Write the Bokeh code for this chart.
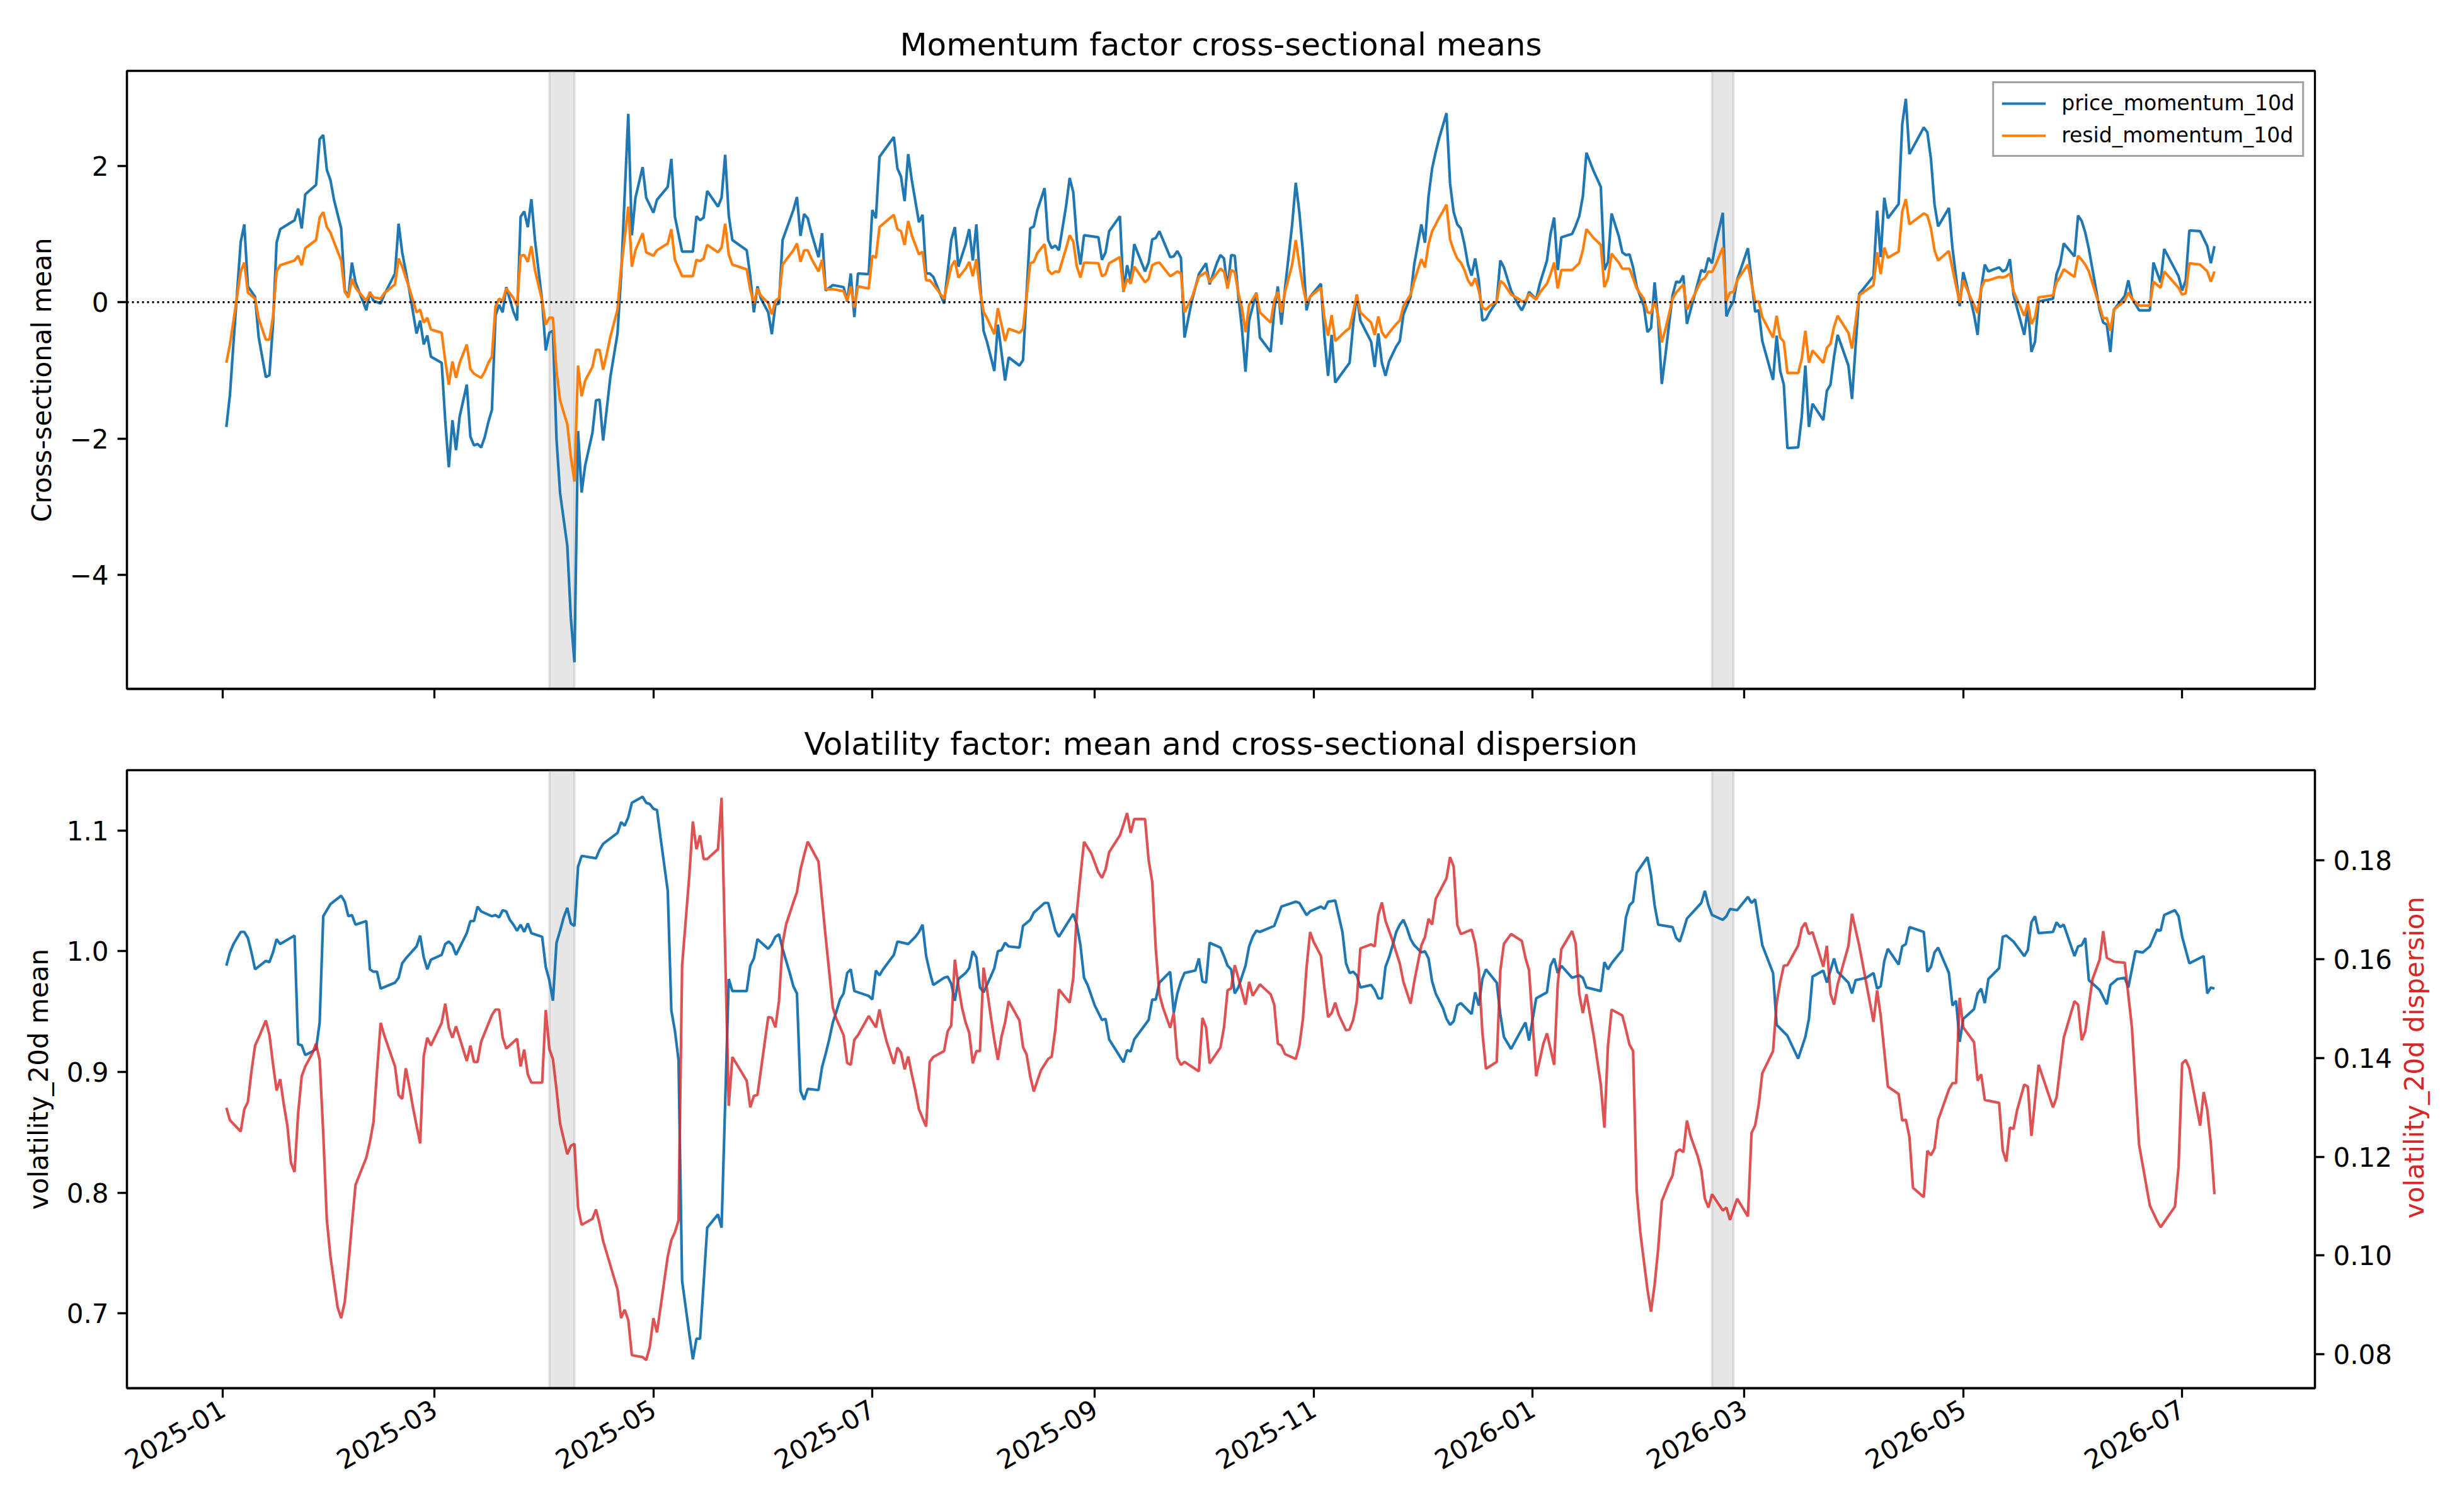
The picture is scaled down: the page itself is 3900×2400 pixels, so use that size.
import calendar
import datetime as dt
import math

from bokeh.embed import file_html
from bokeh.layouts import column, row
from bokeh.models import (BoxAnnotation, FixedTicker, Legend, LegendItem, LinearAxis,
                          PrintfTickFormatter, Range1d, Span)
from bokeh.plotting import figure
from bokeh.resources import INLINE

# ---------------------------------------------------------------------------
# Data: day offsets are counted from 2025-01-01
# ---------------------------------------------------------------------------
START = dt.datetime(2025, 1, 1)

mom_days = [
    1, 2, 3, 5, 6, 7, 9, 10, 12, 13, 14, 15, 16, 20, 21, 22, 23, 26, 27, 28,
    29, 30, 31, 33, 34, 35, 36, 37, 39, 40, 41, 42, 44, 45, 48, 49, 50, 52, 54, 55,
    56, 57, 58, 61, 62, 63, 64, 65, 66, 68, 69, 70, 71, 72, 73, 74, 75, 76, 77, 78,
    79, 81, 82, 83, 84, 85, 86, 87, 89, 90, 91, 92, 93, 94, 96, 97, 98, 99, 100, 101,
    103, 104, 105, 106, 107, 108, 110, 111, 113, 114, 115, 117, 118, 120, 121, 124, 125, 126, 128, 131,
    132, 133, 134, 135, 138, 139, 140,
    141, 142, 146, 147, 148, 149, 150, 152, 153, 154, 155, 156, 159, 160, 161, 162, 163, 164, 166, 167,
    168, 170, 173, 174, 175, 176, 177, 180, 181, 182, 183, 187, 188, 189, 190, 191, 192, 194, 195, 196,
    197, 198, 201, 203, 204, 205, 207, 208, 209, 210, 211, 212, 213, 215, 216, 218, 219, 222, 223, 224,
    225, 226, 227, 229, 230, 231, 232, 233, 235, 236, 237, 238, 239, 240, 244, 245, 246, 247, 250, 251,
    252, 253, 254, 257, 258, 259, 260, 261, 264, 265, 266, 267, 268, 270, 272, 274, 275, 277, 278, 279,
    280,
    281, 282, 283, 284, 285, 286, 288, 289, 292, 293, 294, 295, 296, 298, 299, 300, 301, 302, 303, 306,
    307, 308, 309, 310, 313, 314, 315, 316, 317, 320, 321, 322, 323, 324, 325, 327, 328, 329, 331, 332,
    334, 335, 336, 337, 338, 339, 340, 341, 342, 343, 344, 345, 346, 347, 348, 349, 350, 351, 352, 353,
    355, 356, 357, 359, 361, 362, 363, 364, 366, 367, 369, 370, 371, 372, 373, 376, 377, 378, 379, 380,
    382, 384, 385, 386, 387, 389, 390, 391, 392, 393, 394, 396, 397, 398, 399, 400, 401, 402, 403, 404,
    405, 406, 407, 408, 409, 412, 413, 414, 415, 416, 418, 419,
    420, 421, 422, 425, 427, 428, 429, 432, 433, 434, 435, 436, 439, 440, 441, 442, 443, 446, 447, 448,
    449, 450, 453, 454, 456, 460, 461, 462, 463, 464, 467, 468, 469, 470, 474, 475, 476, 477, 478, 481,
    482, 484, 485, 487, 488, 489, 490, 491, 492, 495, 496, 497, 498, 499, 502, 503, 504, 505, 506, 510,
    511, 512, 513, 516, 517, 518, 519, 520, 523, 524, 525, 526, 527, 530, 531, 532, 534, 537, 538, 540,
    541, 545, 546, 547, 548, 551, 553, 554, 555,
]

price_momentum_10d = [
    -1.83, -1.36, -0.59, 0.88, 1.14, 0.23, 0.08, -0.51, -1.10, -1.07,
    -0.33, 0.87, 1.07, 1.20, 1.37, 1.08, 1.58, 1.72, 2.39, 2.45,
    1.94, 1.79, 1.50, 1.08, 0.17, 0.08, 0.58, 0.29, 0.02, -0.12,
    0.15, 0.02, -0.02, 0.11, 0.42, 1.15, 0.73, 0.17, -0.46, -0.27,
    -0.62, -0.49, -0.80, -0.89, -1.74, -2.42, -1.73, -2.17, -1.68, -1.21,
    -1.97, -2.10, -2.08, -2.13, -1.98, -1.76, -1.58, -0.20, -0.04, -0.15,
    0.22, -0.14, -0.27, 1.25, 1.33, 1.10, 1.51, 0.91, 0.02, -0.71,
    -0.45, -0.42, -2.01, -2.80, -3.57, -4.63, -5.28, -1.89, -2.79, -2.39,
    -1.92, -1.44, -1.43, -2.03, -1.57, -1.10, -0.46, 0.38, 2.76, 0.98,
    1.53, 1.98, 1.53, 1.31, 1.50, 1.69, 2.10, 1.25, 0.74, 0.74,
    1.26, 1.20, 1.24, 1.63, 1.40, 1.53, 2.16,
    1.27, 0.91, 0.76, 0.38, -0.15, 0.23, 0.05, -0.15, -0.47, -0.04,
    -0.02, 0.91, 1.35, 1.54, 0.97, 1.29, 1.23, 1.02, 0.66, 1.01,
    0.17, 0.25, 0.22, 0.01, 0.42, -0.22, 0.42, 0.41, 1.35, 1.23,
    2.13, 2.42, 1.96, 1.84, 1.48, 2.17, 1.79, 1.17, 1.28, 0.42,
    0.42, 0.37, -0.02, 0.91, 1.10, 0.52, 0.85, 1.07, 0.61, 1.14,
    0.32, -0.42, -0.59, -1.01, -0.33, -1.15, -0.81, -0.93, -0.85, 0.14,
    1.08, 1.11, 1.35, 1.67, 0.91, 0.79, 0.83, 0.76, 1.41, 1.82,
    1.61, 0.91, 0.55, 0.98, 0.95, 0.62, 0.73, 1.04, 1.26, 0.15,
    0.54, 0.32, 0.85, 0.45, 0.58, 0.92, 0.94, 1.04, 0.66, 0.67,
    0.75, 0.65, -0.52, 0.01, 0.41, 0.57, 0.26, 0.57, 0.69, 0.64,
    0.20,
    0.69, 0.68, 0.09, -0.39, -1.02, -0.27, 0.14, -0.52, -0.73, -0.12,
    0.23, -0.33, 0.20, 1.14, 1.75, 1.32, 0.73, -0.12, 0.08, 0.27,
    -0.51, -1.08, -0.48, -1.18, -0.96, -0.89, -0.33, 0.11, -0.27, -0.58,
    -0.95, -0.46, -0.89, -1.08, -0.87, -0.65, -0.57, -0.18, 0.08, 0.55,
    1.14, 0.87, 1.55, 1.96, 2.20, 2.41, 2.59, 2.77, 1.74, 1.32,
    1.14, 1.08, 0.85, 0.55, 0.39, 0.64, 0.32, -0.27, -0.25, -0.15,
    0.01, 0.61, 0.51, 0.17, -0.04, -0.12, -0.01, 0.15, 0.04, 0.27,
    0.61, 1.00, 1.24, 0.47, 0.95, 1.00, 1.12, 1.26, 1.55, 2.19,
    1.92, 1.69, 0.47, 0.59, 1.30, 0.97, 0.73, 0.69, 0.70, 0.51,
    0.23, -0.06, -0.44, -0.38, 0.29, -0.27, -1.20, -0.78, -0.33, 0.10,
    0.30, 0.29, 0.39, -0.32, -0.12, 0.47, 0.44, 0.65, 0.57, 0.85,
    1.31, -0.21,
    -0.08, 0.02, 0.33, 0.79, -0.14, -0.12, -0.57, -1.14, -0.49, -1.01,
    -1.21, -2.14, -2.13, -1.68, -0.93, -1.83, -1.49, -1.73, -1.30, -1.21,
    -0.80, -0.48, -0.93, -1.42, 0.12, 0.38, 1.34, 0.66, 1.53, 1.23,
    1.44, 2.61, 2.98, 2.17, 2.56, 2.49, 2.10, 1.43, 1.11, 1.38,
    0.79, -0.06, 0.44, 0.04, -0.18, -0.48, 0.20, 0.55, 0.45, 0.51,
    0.45, 0.48, 0.63, 0.11, -0.48, -0.08, -0.73, -0.58, 0.01, 0.05,
    0.41, 0.55, 0.86, 0.67, 1.27, 1.19, 1.02, 0.78, -0.11, -0.30,
    -0.33, -0.73, -0.11, 0.09, 0.32, 0.06, -0.12, -0.12, 0.58, 0.29,
    0.78, 0.38, 0.17, 0.32, 1.05, 1.04, 0.82, 0.57, 0.82,
]

resid_momentum_10d = [
    -0.89, -0.62, -0.27, 0.45, 0.58, 0.14, 0.05, -0.24, -0.55, -0.55,
    -0.21, 0.45, 0.54, 0.61, 0.68, 0.54, 0.79, 0.91, 1.24, 1.32,
    1.10, 1.02, 0.88, 0.61, 0.15, 0.07, 0.34, 0.21, 0.08, 0.02,
    0.14, 0.07, 0.05, 0.13, 0.26, 0.64, 0.52, 0.20, -0.15, -0.11,
    -0.30, -0.23, -0.40, -0.45, -0.86, -1.21, -0.87, -1.11, -0.89, -0.62,
    -0.98, -1.05, -1.08, -1.11, -1.02, -0.89, -0.80, -0.06, 0.05, 0.02,
    0.20, 0.06, -0.05, 0.68, 0.69, 0.59, 0.82, 0.47, 0.02, -0.33,
    -0.23, -0.23, -1.01, -1.44, -1.79, -2.27, -2.63, -0.93, -1.38, -1.15,
    -0.95, -0.70, -0.70, -0.99, -0.76, -0.51, -0.11, 0.49, 1.40, 0.52,
    0.76, 1.01, 0.73, 0.68, 0.76, 0.86, 1.07, 0.62, 0.38, 0.38,
    0.62, 0.60, 0.64, 0.84, 0.73, 0.80, 1.15,
    0.70, 0.55, 0.48, 0.18, -0.02, 0.20, 0.09, -0.01, -0.18, 0.02,
    0.06, 0.55, 0.76, 0.86, 0.59, 0.76, 0.76, 0.64, 0.45, 0.62,
    0.19, 0.19, 0.16, 0.02, 0.23, -0.08, 0.23, 0.20, 0.68, 0.65,
    1.10, 1.28, 1.07, 1.04, 0.84, 1.19, 0.98, 0.70, 0.74, 0.32,
    0.32, 0.26, 0.05, 0.52, 0.61, 0.36, 0.49, 0.59, 0.38, 0.63,
    0.17, -0.14, -0.24, -0.47, -0.09, -0.57, -0.39, -0.45, -0.39, 0.08,
    0.57, 0.59, 0.72, 0.85, 0.47, 0.41, 0.45, 0.44, 0.79, 0.98,
    0.89, 0.52, 0.36, 0.58, 0.57, 0.38, 0.41, 0.57, 0.66, 0.16,
    0.34, 0.27, 0.52, 0.29, 0.34, 0.54, 0.57, 0.58, 0.38, 0.41,
    0.45, 0.42, -0.15, 0.06, 0.37, 0.44, 0.29, 0.42, 0.49, 0.45,
    0.20,
    0.47, 0.44, 0.14, -0.09, -0.44, -0.04, 0.13, -0.15, -0.30, 0.02,
    0.15, -0.15, 0.15, 0.55, 0.91, 0.55, 0.23, -0.02, 0.08, 0.21,
    -0.24, -0.49, -0.19, -0.57, -0.42, -0.38, -0.15, 0.11, -0.15, -0.30,
    -0.48, -0.21, -0.44, -0.52, -0.45, -0.32, -0.27, -0.06, 0.11, 0.31,
    0.63, 0.51, 0.85, 1.04, 1.14, 1.24, 1.33, 1.43, 0.92, 0.76,
    0.64, 0.58, 0.47, 0.32, 0.24, 0.35, 0.17, -0.08, -0.11, -0.06,
    0.01, 0.31, 0.27, 0.11, 0.05, 0.01, 0.02, 0.12, 0.04, 0.14,
    0.27, 0.41, 0.58, 0.20, 0.47, 0.47, 0.52, 0.57, 0.76, 1.07,
    0.94, 0.84, 0.22, 0.35, 0.71, 0.58, 0.49, 0.49, 0.49, 0.35,
    0.20, 0.05, -0.15, -0.16, 0.02, -0.21, -0.59, -0.40, -0.18, 0.05,
    0.14, 0.20, 0.26, -0.11, -0.01, 0.32, 0.35, 0.45, 0.44, 0.55,
    0.80, 0.02,
    0.14, 0.15, 0.32, 0.55, 0.01, 0.01, -0.22, -0.52, -0.20, -0.52,
    -0.58, -1.04, -1.04, -0.83, -0.42, -0.89, -0.71, -0.89, -0.67, -0.61,
    -0.36, -0.20, -0.45, -0.68, 0.10, 0.25, 0.73, 0.41, 0.80, 0.65,
    0.74, 1.33, 1.51, 1.14, 1.30, 1.27, 1.08, 0.76, 0.61, 0.75,
    0.49, -0.01, 0.32, 0.07, -0.04, -0.16, 0.20, 0.32, 0.32, 0.37,
    0.36, 0.38, 0.42, 0.16, -0.20, -0.02, -0.32, -0.22, 0.07, 0.10,
    0.29, 0.37, 0.48, 0.37, 0.68, 0.62, 0.55, 0.45, -0.06, -0.24,
    -0.23, -0.42, -0.11, 0.02, 0.14, 0.05, -0.05, -0.05, 0.30, 0.21,
    0.45, 0.21, 0.11, 0.13, 0.57, 0.55, 0.45, 0.30, 0.45,
]

vol_mean_days = [
    1, 2, 3, 5, 6, 7, 8, 9, 12, 13, 14, 15, 16, 20, 21, 22, 23, 25, 26, 27,
    28, 29, 30, 33, 34, 35, 36, 37, 40, 41, 42, 43, 44, 48, 49, 50, 51, 54, 55, 56,
    57, 58, 61, 62, 63, 64, 65, 67, 68, 69, 70, 71, 72, 75, 76, 77, 78, 79, 80, 81,
    82, 83, 84, 85, 86, 89, 90, 91, 92, 93, 94, 95, 96, 97, 98, 99, 100, 104, 105, 106,
    110, 111, 112, 113, 114, 117, 118, 119, 120, 121, 122, 124, 125, 126, 127, 128, 130, 131, 132, 133,
    135, 138, 139, 141, 142, 146, 147, 148, 149, 152, 153, 154, 155, 156, 158, 159, 160, 161, 162, 163,
    166, 167, 168, 169, 170, 171, 172, 173, 174, 175, 176, 179, 180, 181, 182, 183, 184, 187, 188, 191,
    193, 194, 195, 196, 197, 198, 201, 202, 203, 204, 205, 207, 208, 209, 210, 211, 212, 214, 215, 216,
    217, 218, 219, 222, 223, 225, 226, 229, 230, 231, 232, 233, 237, 238, 239, 240, 241, 243, 245, 246,
    247, 251, 252, 253, 254, 258, 259, 260, 261, 264, 265, 266, 267, 268, 271, 272, 273, 274, 275, 278,
    279, 280, 281, 282, 283, 285, 286, 287, 288, 289, 293, 295, 299, 300, 302, 303, 306, 307, 308, 310,
    312, 313, 314, 315, 316, 317, 320, 321, 322, 323, 324, 325, 326, 327, 328, 329, 330, 331, 332, 334,
    335, 336, 337, 338, 340, 341, 342, 343, 344, 345, 348, 349, 350, 351, 352, 355, 356, 357, 359, 363,
    364, 366, 369, 370, 371, 372, 373, 376, 378, 379, 380, 384, 385, 386, 387, 390, 391, 392, 393, 394,
    397, 398, 399, 400, 404, 405, 406, 407, 408, 412, 413, 414, 415, 418, 419, 420, 422, 425, 426, 427,
    429, 432, 433, 436, 439, 441, 442, 443, 446, 447, 449, 450, 453, 454, 455, 458, 460, 461, 462, 463,
    464, 467, 468, 469, 470, 474, 475, 476, 477, 478, 481, 482, 483, 484, 485, 488, 489, 490, 491, 492,
    495, 496, 497, 499, 502, 503, 504, 505, 506, 510, 511, 512, 513, 516, 517, 518, 519, 520, 523, 525,
    526, 528, 530, 531, 533, 535, 537, 539, 540, 541, 544, 545, 546, 548, 552, 553, 554, 555,
]

volatility_20d_mean = [
    0.988, 0.999, 1.006, 1.016, 1.016, 1.011, 0.999, 0.985, 0.992, 0.991,
    0.999, 1.010, 1.006, 1.013, 0.923, 0.922, 0.914, 0.917, 0.919, 0.941,
    1.029, 1.034, 1.039, 1.046, 1.041, 1.029, 1.030, 1.022, 1.025, 0.985,
    0.983, 0.983, 0.969, 0.974, 0.978, 0.990, 0.994, 1.004, 1.013, 0.995,
    0.985, 0.993, 0.997, 1.006, 1.008, 1.005, 0.997, 1.009, 1.015, 1.025,
    1.025, 1.037, 1.033, 1.029, 1.030, 1.028, 1.034, 1.033, 1.026, 1.022,
    1.017, 1.022, 1.016, 1.023, 1.015, 1.012, 0.987, 0.976, 0.959, 1.007,
    1.017, 1.028, 1.036, 1.023, 1.021, 1.070, 1.079, 1.077, 1.084, 1.089,
    1.098, 1.107, 1.104, 1.111, 1.123, 1.128, 1.123, 1.122, 1.118, 1.117,
    1.094, 1.050, 0.951, 0.934, 0.910, 0.727, 0.683, 0.662, 0.679, 0.679,
    0.771, 0.782, 0.771, 0.977, 0.967, 0.967, 0.988, 0.994, 1.010, 1.002,
    1.006, 1.012, 1.014, 1.002, 0.982, 0.971, 0.965, 0.884, 0.877, 0.886,
    0.885, 0.904, 0.915, 0.927, 0.941, 0.950, 0.960, 0.965, 0.982, 0.985,
    0.967, 0.964, 0.963, 0.960, 0.984, 0.980, 0.985, 0.997, 1.008, 1.006,
    1.012, 1.016, 1.022, 0.996, 0.983, 0.972, 0.978, 0.979, 0.973, 0.959,
    0.977, 0.982, 0.986, 1.000, 0.995, 0.970, 0.966, 0.979, 0.986, 1.000,
    1.001, 1.007, 1.004, 1.003, 1.021, 1.026, 1.032, 1.040, 1.040, 1.029,
    1.017, 1.012, 1.031, 1.022, 1.005, 0.978, 0.972, 0.955, 0.943, 0.944,
    0.927, 0.908, 0.918, 0.917, 0.927, 0.943, 0.960, 0.960, 0.974, 0.983,
    0.949, 0.965, 0.975, 0.982, 0.984, 0.994, 0.975, 0.974, 1.007, 1.003,
    0.996, 0.988, 0.985, 0.965, 0.970, 0.988, 1.004, 1.012, 1.017, 1.016,
    1.021, 1.037, 1.041, 1.040, 1.030, 1.033, 1.037, 1.035, 1.041, 1.042,
    1.016, 0.990, 0.982, 0.983, 0.980, 0.970, 0.972, 0.968, 0.961, 0.961,
    0.987, 0.995, 1.005, 1.016, 1.022, 1.026, 1.019, 1.010, 1.005, 0.999,
    1.000, 0.994, 0.975, 0.965, 0.953, 0.944, 0.939, 0.942, 0.955, 0.957,
    0.948, 0.966, 0.955, 0.977, 0.985, 0.974, 0.948, 0.929, 0.919, 0.941,
    0.926, 0.961, 0.966, 0.988, 0.994, 0.982, 0.988, 0.978, 0.980, 0.978,
    0.970, 0.967, 0.991, 0.985, 0.990, 1.001, 1.028, 1.038, 1.041, 1.065,
    1.078, 1.063, 1.038, 1.022, 1.020, 1.011, 1.008, 1.017, 1.027, 1.040,
    1.050, 1.038, 1.030, 1.026, 1.029, 1.035, 1.034, 1.045, 1.040, 1.043,
    1.005, 0.982, 0.939, 0.930, 0.911, 0.929, 0.944, 0.979, 0.984, 0.974,
    0.994, 0.983, 0.974, 0.965, 0.976, 0.978, 0.982, 0.969, 0.971, 0.992,
    1.002, 0.989, 1.004, 1.006, 1.020, 1.016, 0.983, 0.987, 0.999, 1.003,
    0.982, 0.955, 0.959, 0.925, 0.944, 0.952, 0.965, 0.969, 0.957, 0.977,
    0.986, 1.012, 1.013, 1.008, 0.996, 1.001, 1.024, 1.029, 1.015, 1.016,
    1.024, 1.020, 1.022, 0.996, 1.004, 1.005, 1.011, 0.976, 0.968, 0.956,
    0.972, 0.977, 0.978, 0.970, 1.000, 0.999, 1.004, 1.018, 1.017, 1.030,
    1.034, 1.029, 1.012, 0.990, 0.996, 0.965, 0.970, 0.969,
]

vol_disp_days = [
    1, 2, 5, 6, 7, 8, 9, 10, 12, 13, 14, 15, 16, 17, 18, 19, 20, 21, 22, 23,
    25, 26, 27, 28, 29, 30, 32, 33, 34, 35, 36, 37, 40, 41, 42, 43, 44, 45, 48, 49,
    50, 51, 52, 53, 54, 55, 56, 57, 58, 61, 62, 63, 64, 65, 67, 68, 69, 70, 71, 72,
    75, 76, 77, 78, 79, 82, 83, 84, 85, 86, 89, 90, 91, 92, 93, 94, 96, 97, 98, 99,
    100, 103, 104, 105, 106, 110, 111, 112, 113, 114, 117, 118, 119, 120, 121, 124, 125, 126, 127, 128,
    130, 131, 132, 133, 134, 135, 138, 139, 141, 142, 146, 147, 148, 149, 152, 153, 154, 155, 156, 157,
    159, 160, 161, 162, 163, 166, 167, 168, 169, 170, 171, 173, 174, 175, 176, 177, 180, 182, 183, 184,
    185, 187, 188, 189, 190, 191, 192, 193, 194, 196, 197, 198, 201, 202, 203, 204, 205, 206, 207, 208,
    209, 210, 211, 212, 213, 214, 215, 216, 217, 218, 219, 222, 223, 224, 225, 226, 227, 228, 230, 231,
    232, 233, 236, 237, 238, 239, 240, 242, 244, 245, 246, 247, 250, 251, 252, 253, 254, 257, 258, 259,
    260, 261, 262, 264, 265, 266, 267, 268, 272, 273, 274, 275, 278, 279, 280, 281, 282, 283, 285, 286,
    287, 289, 292, 293, 294, 295, 296, 299, 300, 301, 302, 303, 304, 306, 307, 308, 309, 310, 311, 313,
    314, 315, 316, 317, 320, 321, 322, 323, 324, 326, 328, 329, 331, 332, 334, 335, 336, 337, 338, 341,
    342, 343, 344, 345, 348, 349, 350, 351, 352, 355, 356, 357, 359, 362, 363, 364, 365, 366, 367, 368,
    369, 371, 372, 373, 376, 377, 378, 379, 380, 382, 384, 385, 386, 387, 390, 391, 392, 393, 394, 395,
    397, 398, 399, 400, 401, 403, 404, 405, 406, 407, 408, 409, 411, 412, 413, 414, 415, 418, 419, 420,
    422, 425, 426, 427, 428, 429, 432, 433, 434, 435, 436, 439, 440, 441, 442, 443, 446, 447, 448, 449,
    450, 453, 454, 456, 460, 461, 462, 464, 467, 468, 469, 470, 471, 474, 475, 476, 477, 478, 481, 482,
    483, 484, 485, 488, 489, 490, 491, 495, 496, 497, 498, 499, 500, 502, 503, 504, 506, 510, 511, 513,
    516, 517, 518, 519, 521, 523, 524, 525, 527, 530, 532, 534, 537, 539, 540, 544, 545, 546, 547, 548,
    551, 552, 553, 554, 555,
]

volatility_20d_dispersion = [
    0.1299, 0.1274, 0.1251, 0.1296, 0.1311, 0.1373, 0.1425, 0.1441, 0.1476, 0.1447,
    0.1388, 0.1334, 0.1357, 0.1306, 0.1263, 0.1188, 0.1169, 0.1288, 0.1363, 0.1383,
    0.1410, 0.1429, 0.1396, 0.1247, 0.1072, 0.0998, 0.0895, 0.0873, 0.0906, 0.0981,
    0.1064, 0.1143, 0.1198, 0.1230, 0.1270, 0.1375, 0.1471, 0.1446, 0.1383, 0.1325,
    0.1317, 0.1379, 0.1342, 0.1300, 0.1263, 0.1227, 0.1404, 0.1441, 0.1425, 0.1471,
    0.1510, 0.1461, 0.1441, 0.1464, 0.1417, 0.1394, 0.1425, 0.1392, 0.1392, 0.1433,
    0.1487, 0.1498, 0.1498, 0.1441, 0.1419, 0.1439, 0.1383, 0.1417, 0.1367, 0.1350,
    0.1350, 0.1497, 0.1418, 0.1398, 0.1336, 0.1267, 0.1205, 0.1222, 0.1226, 0.1097,
    0.1062, 0.1074, 0.1093, 0.1064, 0.1029, 0.0931, 0.0873, 0.0890, 0.0869, 0.0798,
    0.0794, 0.0788, 0.0815, 0.0873, 0.0844, 0.0998, 0.1031, 0.1047, 0.1071, 0.1587,
    0.1769, 0.1879, 0.1823, 0.1851, 0.1803, 0.1803, 0.1823, 0.1927, 0.1303, 0.1402,
    0.1354, 0.1300, 0.1323, 0.1325, 0.1483, 0.1481, 0.1462, 0.1516, 0.1632, 0.1671,
    0.1715, 0.1736, 0.1782, 0.1811, 0.1838, 0.1798, 0.1720, 0.1645, 0.1574, 0.1502,
    0.1479, 0.1446, 0.1390, 0.1386, 0.1437, 0.1446, 0.1485, 0.1462, 0.1498, 0.1462,
    0.1433, 0.1388, 0.1421, 0.1411, 0.1377, 0.1403, 0.1367, 0.1334, 0.1296, 0.1261,
    0.1392, 0.1402, 0.1414, 0.1454, 0.1466, 0.1599, 0.1545, 0.1502, 0.1472, 0.1451,
    0.1389, 0.1414, 0.1414, 0.1583, 0.1537, 0.1485, 0.1437, 0.1396, 0.1443, 0.1472,
    0.1515, 0.1476, 0.1422, 0.1407, 0.1363, 0.1332, 0.1354, 0.1375, 0.1398, 0.1403,
    0.1458, 0.1539, 0.1512, 0.1562, 0.1695, 0.1769, 0.1838, 0.1815, 0.1776, 0.1765,
    0.1782, 0.1817, 0.1851, 0.1873, 0.1896, 0.1856, 0.1884, 0.1884, 0.1801, 0.1757,
    0.1620, 0.1529, 0.1502, 0.1461, 0.1491, 0.1400, 0.1386, 0.1392, 0.1373, 0.1481,
    0.1462, 0.1389, 0.1421, 0.1462, 0.1537, 0.1541, 0.1588, 0.1562, 0.1508, 0.1554,
    0.1526, 0.1549, 0.1529, 0.1508, 0.1429, 0.1425, 0.1408, 0.1398, 0.1425, 0.1479,
    0.1583, 0.1655, 0.1635, 0.1607, 0.1541, 0.1483, 0.1491, 0.1512, 0.1487, 0.1456,
    0.1458, 0.1477, 0.1515, 0.1622, 0.1630, 0.1626, 0.1690, 0.1715, 0.1678, 0.1637,
    0.1591, 0.1554, 0.1510, 0.1554, 0.1628, 0.1645, 0.1682, 0.1670, 0.1722, 0.1764,
    0.1807, 0.1788, 0.1670, 0.1651, 0.1660, 0.1632, 0.1578, 0.1452, 0.1378, 0.1392,
    0.1577, 0.1631, 0.1651, 0.1637, 0.1603, 0.1578, 0.1471, 0.1363, 0.1396, 0.1429,
    0.1450, 0.1386, 0.1549, 0.1620, 0.1657, 0.1632, 0.1529, 0.1491, 0.1529, 0.1446,
    0.1346, 0.1259, 0.1425, 0.1498, 0.1486, 0.1458, 0.1427, 0.1414, 0.1132, 0.1047,
    0.0931, 0.0886, 0.0941, 0.1014, 0.1110, 0.1147, 0.1162, 0.1209, 0.1215, 0.1209,
    0.1273, 0.1242, 0.1201, 0.1173, 0.1115, 0.1097, 0.1124, 0.1091, 0.1097, 0.1072,
    0.1115, 0.1079, 0.1248, 0.1263, 0.1305, 0.1369, 0.1414, 0.1512, 0.1554, 0.1587,
    0.1588, 0.1628, 0.1663, 0.1674, 0.1651, 0.1655, 0.1585, 0.1627, 0.1530, 0.1508,
    0.1549, 0.1627, 0.1692, 0.1628, 0.1473, 0.1537, 0.1485, 0.1342, 0.1327, 0.1273,
    0.1275, 0.1240, 0.1137, 0.1118, 0.1212, 0.1203, 0.1217, 0.1274, 0.1336, 0.1349,
    0.1349, 0.1522, 0.1462, 0.1432, 0.1354, 0.1367, 0.1315, 0.1309, 0.1213, 0.1190,
    0.1259, 0.1256, 0.1294, 0.1346, 0.1342, 0.1242, 0.1386, 0.1300, 0.1320, 0.1441,
    0.1515, 0.1508, 0.1436, 0.1454, 0.1559, 0.1599, 0.1657, 0.1603, 0.1595, 0.1593,
    0.1462, 0.1224, 0.1101, 0.1070, 0.1057, 0.1099, 0.1180, 0.1389, 0.1396, 0.1379,
    0.1263, 0.1331, 0.1295, 0.1226, 0.1124,
]

# Shaded stress windows
stress_windows = [("2025-04-02", "2025-04-09"), ("2026-02-20", "2026-02-26")]

# Bi-monthly tick labels
month_ticks = ["2025-01", "2025-03", "2025-05", "2025-07", "2025-09",
               "2025-11", "2026-01", "2026-03", "2026-05", "2026-07"]

assert len(mom_days) == len(price_momentum_10d) == len(resid_momentum_10d)
assert len(vol_mean_days) == len(volatility_20d_mean)
assert len(vol_disp_days) == len(volatility_20d_dispersion)

# ---------------------------------------------------------------------------
# Helpers
# ---------------------------------------------------------------------------
FONT = "DejaVu Sans"
BLUE, ORANGE, RED = "#1f77b4", "#ff7f0e", "#d62728"
START_MS = calendar.timegm(START.timetuple()) * 1000.0

X_START_DAY, X_END_DAY = -26.7, 583.0
DISP_LO, DISP_HI = 0.0731, 0.1983

# Page geometry (pixels)
PAGE_W = 3900
TOP_H, BOTTOM_H = 1115, 1285
BORDER_L = 201
BORDER_R = 226
SIDE_W = 95                      # strip holding the right-hand axis title
BOTTOM_TOP, BOTTOM_BOTTOM = 107, 197


def day_ms(day):
    return START_MS + day * 86400000.0


def iso_ms(text, fmt):
    return calendar.timegm(dt.datetime.strptime(text, fmt).timetuple()) * 1000.0


def to_dates(days):
    return [START + dt.timedelta(days=d) for d in days]


tick_ms = [int(iso_ms(m, "%Y-%m")) for m in month_ticks]
tick_labels = {t: m for t, m in zip(tick_ms, month_ticks)}

x_range = Range1d(start=day_ms(X_START_DAY), end=day_ms(X_END_DAY))


def style_axis(ax):
    ax.axis_line_color = "black"
    ax.axis_line_width = 3.3
    ax.major_tick_line_color = "black"
    ax.major_tick_line_width = 3.3
    ax.major_tick_in = 0
    ax.major_tick_out = 15
    ax.minor_tick_line_color = None
    ax.major_label_text_font = FONT
    ax.major_label_text_font_size = "42px"
    ax.major_label_text_color = "black"
    ax.major_label_standoff = 14
    ax.axis_label_text_font = FONT
    ax.axis_label_text_font_size = "42px"
    ax.axis_label_text_font_style = "normal"
    ax.axis_label_text_color = "black"
    ax.axis_label_standoff = 17


def make_panel(width, height, border_right, border_top, border_bottom, title, y_range,
               show_dates):
    p = figure(width=width, height=height, x_range=x_range, y_range=y_range,
               x_axis_type="datetime", output_backend="svg", toolbar_location=None,
               min_border_left=BORDER_L, min_border_right=border_right,
               min_border_top=border_top, min_border_bottom=border_bottom,
               title=title)
    p.title.align = "center"
    p.title.text_font = FONT
    p.title.text_font_size = "50px"
    p.title.text_font_style = "normal"
    p.title.text_color = "black"
    p.title.standoff = 25
    p.background_fill_color = "white"
    p.border_fill_color = "white"
    p.outline_line_color = "black"
    p.outline_line_width = 3.3
    p.xgrid.visible = False
    p.ygrid.visible = False
    for ax in p.xaxis + p.yaxis:
        style_axis(ax)
    p.xaxis.ticker = FixedTicker(ticks=tick_ms)
    if show_dates:
        p.xaxis.major_label_overrides = tick_labels
    else:
        # shared time axis: ticks only, the dates are labelled on the lower panel
        p.xaxis.major_label_text_color = None
        p.xaxis.major_label_text_font_size = "1px"
        p.xaxis.major_label_standoff = 0
    for start, end in stress_windows:
        p.add_layout(BoxAnnotation(left=iso_ms(start, "%Y-%m-%d"), right=iso_ms(end, "%Y-%m-%d"),
                                   fill_color="gray", fill_alpha=0.2,
                                   line_color="gray", line_alpha=0.2, line_width=4,
                                   level="underlay"))
    return p


# ---------------------------------------------------------------------------
# Top panel: momentum factor means
# ---------------------------------------------------------------------------
p1 = make_panel(PAGE_W, TOP_H, BORDER_R, 112, 22, "Momentum factor cross-sectional means",
                Range1d(-5.67, 3.39), show_dates=False)
p1.yaxis.axis_label = "Cross-sectional mean"
p1.yaxis.ticker = FixedTicker(ticks=[-4, -2, 0, 2])
p1.yaxis.major_label_overrides = {-4: "\u22124", -2: "\u22122", 0: "0", 2: "2"}

p1.add_layout(Span(location=0, dimension="width", line_color="black",
                   line_dash="3 5", line_width=3.3))

mom_dates = to_dates(mom_days)
r_price = p1.line(mom_dates, price_momentum_10d, line_color=BLUE, line_width=4.2)
r_resid = p1.line(mom_dates, resid_momentum_10d, line_color=ORANGE, line_width=4.2)

legend = Legend(items=[LegendItem(label="price_momentum_10d", renderers=[r_price]),
                       LegendItem(label="resid_momentum_10d", renderers=[r_resid])],
                location="top_right")
legend.label_text_font = FONT
legend.label_text_font_size = "33px"
legend.label_text_color = "black"
legend.glyph_width = 70
legend.glyph_height = 38
legend.label_height = 38
legend.label_standoff = 25
legend.spacing = 12
legend.padding = 12
legend.margin = 17
legend.border_line_color = "#444444"
legend.border_line_width = 3
legend.background_fill_color = "white"
legend.background_fill_alpha = 0.8
p1.add_layout(legend)

# ---------------------------------------------------------------------------
# Bottom panel: volatility mean (left axis) and dispersion (right axis)
# ---------------------------------------------------------------------------
p2 = make_panel(PAGE_W - SIDE_W, BOTTOM_H, BORDER_R - SIDE_W, BOTTOM_TOP, BOTTOM_BOTTOM,
                "Volatility factor: mean and cross-sectional dispersion",
                Range1d(0.638, 1.150), show_dates=True)
p2.xaxis.major_label_orientation = math.pi / 6
p2.yaxis.axis_label = "volatility_20d mean"
p2.yaxis.ticker = FixedTicker(ticks=[0.7, 0.8, 0.9, 1.0, 1.1])
p2.yaxis.formatter = PrintfTickFormatter(format="%.1f")

p2.extra_y_ranges = {"disp": Range1d(DISP_LO, DISP_HI)}
right_axis = LinearAxis(y_range_name="disp",
                        ticker=FixedTicker(ticks=[0.08, 0.10, 0.12, 0.14, 0.16, 0.18]),
                        formatter=PrintfTickFormatter(format="%.2f"))
style_axis(right_axis)
p2.add_layout(right_axis, "right")

p2.line(to_dates(vol_mean_days), volatility_20d_mean, line_color=BLUE, line_width=4.2)
p2.line(to_dates(vol_disp_days), volatility_20d_dispersion, line_color=RED, line_alpha=0.8,
        line_width=4.2, y_range_name="disp")

# Narrow strip to the right of the lower panel carrying its right-hand axis
# title, read bottom-to-top and centred on the panel's plotting area.
side = figure(width=SIDE_W, height=BOTTOM_H, x_range=Range1d(0, SIDE_W),
              y_range=Range1d(0, BOTTOM_H), output_backend="svg", toolbar_location=None,
              min_border=0)
side.axis.visible = False
side.grid.visible = False
side.outline_line_color = None
side.background_fill_color = "white"
side.border_fill_color = "white"
frame_mid = BOTTOM_H - (BOTTOM_TOP + (BOTTOM_H - BOTTOM_TOP - BOTTOM_BOTTOM) / 2)
side.text(x=[27], y=[frame_mid], text=["volatility_20d dispersion"],
          angle=math.pi / 2, text_align="center", text_baseline="middle",
          text_font={"value": FONT}, text_font_size={"value": "42px"}, text_color=RED)

layout = column(p1, row(p2, side))
open("out.html", "w").write(file_html(layout, INLINE))
